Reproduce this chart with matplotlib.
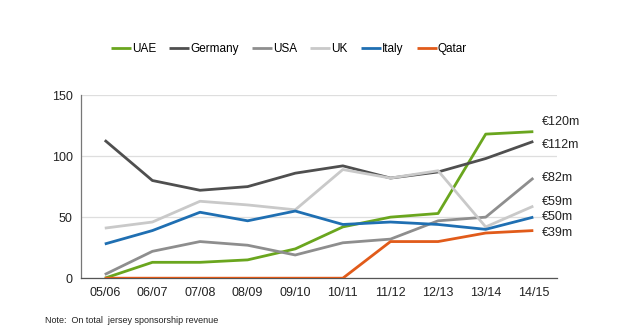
import matplotlib
matplotlib.use("Agg")
import matplotlib.pyplot as plt

plt.rcParams['font.family'] = ['Liberation Sans', 'DejaVu Sans']

seasons = ["05/06", "06/07", "07/08", "08/09", "09/10", "10/11", "11/12", "12/13", "13/14", "14/15"]
uae = [0, 13, 13, 15, 24, 42, 50, 53, 118, 120]
germany = [113, 80, 72, 75, 86, 92, 82, 87, 98, 112]
usa = [3, 22, 30, 27, 19, 29, 32, 47, 50, 82]
uk = [41, 46, 63, 60, 56, 89, 82, 88, 42, 59]
italy = [28, 39, 54, 47, 55, 44, 46, 44, 40, 50]
qatar = [0, 0, 0, 0, 0, 0, 30, 30, 37, 39]

series = [
    ("UAE", uae, "#6aa61e"),
    ("Germany", germany, "#4f4f4f"),
    ("USA", usa, "#8e8e8e"),
    ("UK", uk, "#c9c9c9"),
    ("Italy", italy, "#1f6fb2"),
    ("Qatar", qatar, "#e15b1a"),
]
end_labels = ["€120m", "€112m", "€82m", "€59m", "€50m", "€39m"]
label_y = [128, 109, 82, 62, 50, 37]

fig = plt.figure(figsize=(6.2, 3.3), dpi=100)
ax = fig.add_axes([0.1306, 0.157, 0.768, 0.555])

x = list(range(len(seasons)))
draw_order = [3, 2, 4, 1, 5, 0]
for i in draw_order:
    name, vals, col = series[i]
    ax.plot(x, vals, color=col, lw=2.0, label=name, zorder=3 + i * 0.1, solid_capstyle='butt')

ax.set_xlim(-0.5, 9.5)
ax.set_ylim(0, 150)
ax.set_yticks([0, 50, 100, 150])
ax.set_xticks(x)
ax.set_xticklabels(seasons)
ax.tick_params(length=0, labelsize=9, colors="#222222", pad=6)
ax.yaxis.grid(True, color="#dedede", lw=0.9)
ax.set_axisbelow(True)
for s in ["top", "right"]:
    ax.spines[s].set_visible(False)
ax.spines["left"].set_color("#777777")
ax.spines["bottom"].set_color("#555555")
ax.spines["left"].set_linewidth(0.9)
ax.spines["bottom"].set_linewidth(0.9)

for lab, yv in zip(end_labels, label_y):
    ax.text(9.18, yv, lab, fontsize=9, color="#222222", va="center", ha="left", clip_on=False)

handles, labels = ax.get_legend_handles_labels()
order = [labels.index(n) for n, _, _ in series]
fig.legend([handles[k] for k in order], [labels[k] for k in order],
           loc="center", bbox_to_anchor=(0.466, 0.852), ncol=6, frameon=False,
           fontsize=8.5, handlelength=1.7, handletextpad=0.1, columnspacing=1.1)

fig.text(0.072, 0.02, "Note:  On total  jersey sponsorship revenue", fontsize=6.5, color="#222222")

fig.savefig("out.png", dpi=100)
